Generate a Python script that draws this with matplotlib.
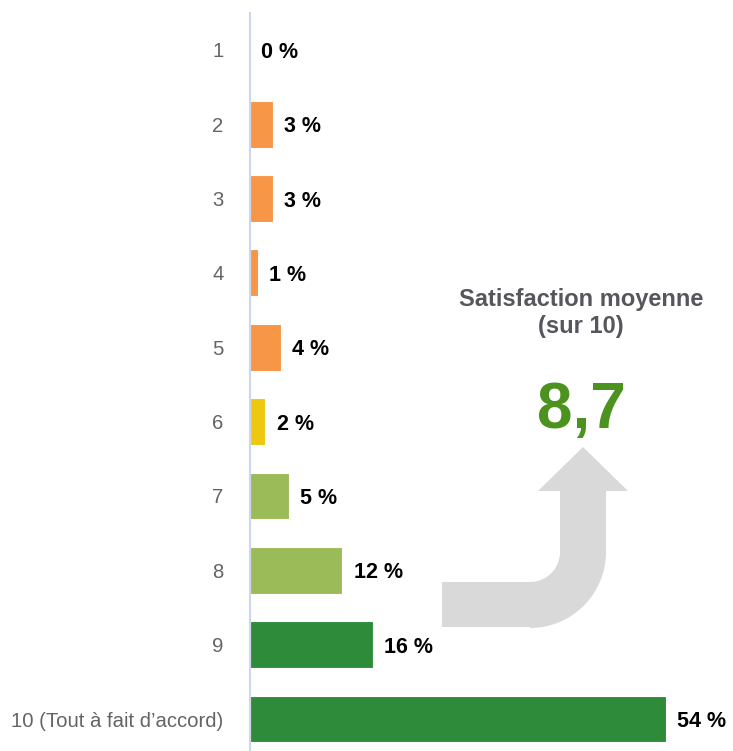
import matplotlib.pyplot as plt
from matplotlib.patches import Polygon
import numpy as np

plt.rcParams['font.family'] = ['Liberation Sans', 'DejaVu Sans']

categories = ["1", "2", "3", "4", "5", "6", "7", "8", "9", "10 (Tout à fait d’accord)"]
values = [0, 3, 3, 1, 4, 2, 5, 12, 16, 54]
colors = ["#F79646", "#F79646", "#F79646", "#F79646", "#F79646",
          "#EEC80E", "#9BBB59", "#9BBB59", "#2E8B3A", "#2E8B3A"]
mean_score = "8,7"
mean_title = "Satisfaction moyenne\n(sur 10)"

W, H = 733, 751
fig = plt.figure(figsize=(W / 100, H / 100), dpi=100)

# overlay in pixel coordinates for the decorative arrow and the score
ov = fig.add_axes([0, 0, 1, 1])
ov.set_xlim(0, W)
ov.set_ylim(H, 0)
ov.axis("off")

cx, cy, r_in, r_out = 530, 552, 30, 76
t = np.linspace(0, np.pi / 2, 30)
pts = [(442, 627), (530, 627)]
pts += [(cx + r_out * np.cos(a), cy + r_out * np.sin(a)) for a in t[::-1]]
pts += [(606, 491), (628, 491), (583, 447), (538, 491), (560, 491)]
pts += [(cx + r_in * np.cos(a), cy + r_in * np.sin(a)) for a in t]
pts += [(442, 582)]
ov.add_patch(Polygon(pts, closed=True, facecolor="#D9D9D9", edgecolor="none"))

ov.text(581, 313, mean_title, ha="center", va="center", fontsize=17,
        fontweight="bold", color="#55575C", linespacing=1.25)
ov.text(581, 428, mean_score, ha="center", va="baseline", fontsize=46,
        fontweight="bold", color="#4C921E")

# bar axes: spine at x=250 px, fills to the right edge
ax = fig.add_axes([250 / W, 0, 1 - 250 / W, 1])
ax.patch.set_visible(False)
y = np.arange(len(categories))
ax.barh(y, values, height=0.63, color=colors, edgecolor="white", linewidth=0.8)
ax.set_xlim(0, (W - 250) / 7.7)
ax.set_ylim(9.43, -0.67)
ax.set_yticks(y)
ax.set_yticklabels(categories, fontsize=14.6, color="#646464")
ax.tick_params(axis="y", length=0, pad=19)
ax.set_xticks([])
for s in ["top", "right", "bottom"]:
    ax.spines[s].set_visible(False)
ax.spines["left"].set_color("#CDD6EA")
ax.spines["left"].set_linewidth(1.5)
ax.spines["left"].set_bounds(9.5, -0.5)

for yi, v in zip(y, values):
    ax.annotate(f"{v} %", (v, yi), xytext=(8, 0), textcoords="offset points",
                ha="left", va="center_baseline", fontsize=15.5,
                fontweight="bold", color="black")

fig.savefig("out.png", dpi=100)
